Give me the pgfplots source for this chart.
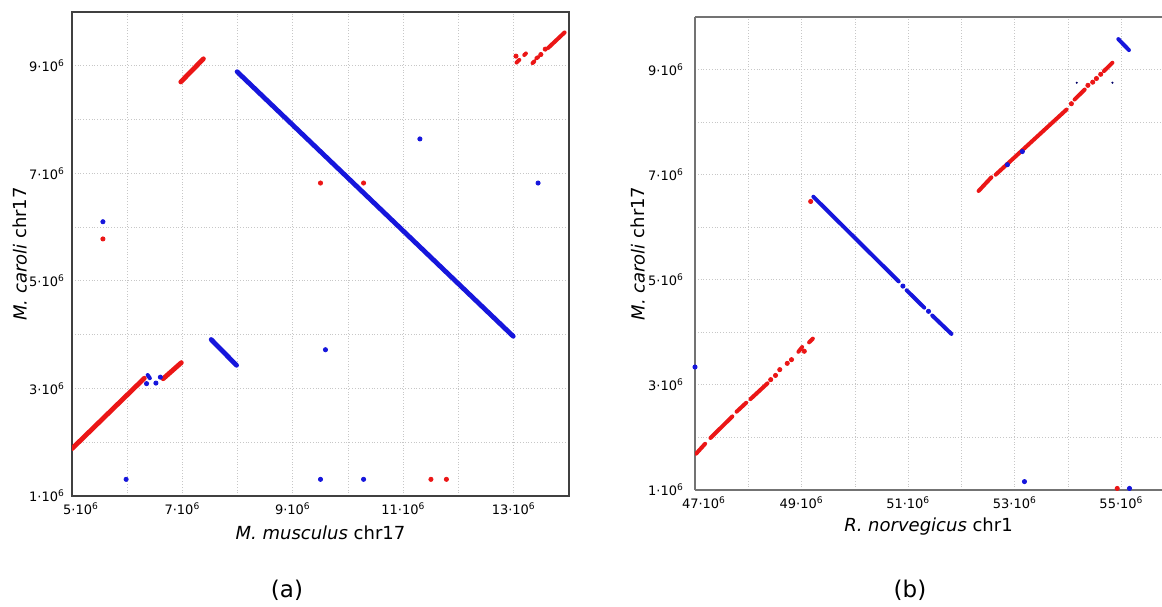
\documentclass[border=0pt]{standalone}
\usepackage{fontspec}
\setmainfont{DejaVu Sans}
\usepackage{pgfplots}
\pgfplotsset{compat=1.18}
\definecolor{cred}{RGB}{235,22,22}
\definecolor{cblue}{RGB}{22,22,220}

\pgfplotsset{
  dotplot/.style={
    scale only axis, anchor=south west,
    unbounded coords=jump, clip=true,
    grid=both,
    grid style={densely dotted, black!22, line width=0.4pt},
    minor grid style={densely dotted, black!22, line width=0.4pt},
    major tick length=0pt, minor tick length=0pt,
    ytick={1,3,5,7,9}, minor ytick={2,4,6,8,10},
    yticklabels={1·10\textsuperscript{6},3·10\textsuperscript{6},5·10\textsuperscript{6},7·10\textsuperscript{6},9·10\textsuperscript{6}},
    ticklabel style={font=\fontsize{6.5}{7}\selectfont},
    label style={font=\fontsize{9}{10}\selectfont},
  },
  segR/.style={color=cred, line width=2.4pt, line cap=round, no markers},
  segB/.style={color=cblue, line width=2.4pt, line cap=round, no markers},
  dotR/.style={color=cred, only marks, mark=*, mark size=1.05pt},
  dotB/.style={color=cblue, only marks, mark=*, mark size=1.05pt},
}

\begin{document}
\begin{tikzpicture}[x=1pt,y=1pt]
\useasboundingbox (0,0) rectangle (581,303);

% (a) M. musculus chr17 vs M. caroli chr17 (positions in Mb)
\begin{axis}[dotplot,
  at={(36pt,55pt)}, width=248.5pt, height=242pt,
  xmin=5, xmax=14, ymin=1, ymax=10,
  xtick={5,7,9,11,13}, minor xtick={6,8,10,12,14},
  xticklabels={\hspace*{9pt}5·10\textsuperscript{6},7·10\textsuperscript{6},9·10\textsuperscript{6},11·10\textsuperscript{6},13·10\textsuperscript{6}},
  axis line style={black!75, line width=0.65pt},
  xlabel={\textit{M. musculus} chr17},
  ylabel={\textit{M. caroli} chr17},
  xlabel style={at={(axis description cs:0.5,0)}, anchor=center, yshift=-18.5pt},
  ylabel style={at={([xshift=-26pt]axis description cs:0,0.5)}, anchor=center},
]
\addplot[segR] coordinates {(5.0,1.88) (6.31,3.19)};
\addplot[segR] coordinates {(6.65,3.18) (6.98,3.48)};
\addplot[segR] coordinates {(6.97,8.70) (7.38,9.13)};
\addplot[segR, line width=2pt] coordinates {
  (13.05,9.06) (13.10,9.11) (nan,nan)
  (13.19,9.20) (13.22,9.23) (nan,nan)
  (13.34,9.05) (13.37,9.08) (nan,nan)
  (13.41,9.14) (13.44,9.16) (nan,nan)
  (13.62,9.33) (13.92,9.62)};
\addplot[dotR] coordinates {(13.04,9.18) (13.49,9.21) (13.57,9.31)
  (5.56,5.78) (9.50,6.82) (10.28,6.82) (11.50,1.31) (11.78,1.31)};
\addplot[segB] coordinates {(7.99,8.89) (12.99,3.97)};
\addplot[segB] coordinates {(7.52,3.91) (7.98,3.43)};
\addplot[segB, line width=2pt] coordinates {(6.37,3.25) (6.41,3.19)};
\addplot[dotB] coordinates {(6.35,3.09) (6.52,3.10) (6.60,3.21)
  (5.56,6.10) (11.30,7.64) (13.44,6.82) (9.59,3.72)
  (5.98,1.31) (9.50,1.31) (10.28,1.31)};
\end{axis}

% (b) R. norvegicus chr1 vs M. caroli chr17 (positions in Mb)
\begin{axis}[dotplot,
  at={(347.5pt,58pt)}, width=233.5pt, height=236.5pt,
  xmin=47, xmax=55.76, ymin=1, ymax=10,
  xtick={47,49,51,53,55}, minor xtick={48,50,52,54},
  xticklabels={\hspace*{9pt}47·10\textsuperscript{6},49·10\textsuperscript{6},51·10\textsuperscript{6},53·10\textsuperscript{6},55·10\textsuperscript{6}},
  axis x line*=box, axis y line*=left,
  axis line style={black!55, line width=0.9pt, -},
  yticklabel style={xshift=-2pt},
  xlabel={\textit{R. norvegicus} chr1},
  ylabel={\textit{M. caroli} chr17},
  xlabel style={at={(axis description cs:0.5,0)}, anchor=center, yshift=-18.5pt},
  ylabel style={at={([xshift=-28.5pt]axis description cs:0,0.5)}, anchor=center},
]
\addplot[segR, line width=2pt] coordinates {
  (47.02,1.69) (47.19,1.88) (nan,nan)
  (47.29,1.99) (47.70,2.40) (nan,nan)
  (47.78,2.49) (47.96,2.66) (nan,nan)
  (48.04,2.73) (48.36,3.03) (nan,nan)
  (48.94,3.63) (49.01,3.72) (nan,nan)
  (49.14,3.81) (49.21,3.88)};
\addplot[dotR] coordinates {(48.42,3.10) (48.51,3.18) (48.59,3.29)
  (48.73,3.41) (48.81,3.48) (49.05,3.64) (49.17,6.49) (54.92,1.03)};
\addplot[segR, line width=2pt] coordinates {
  (52.32,6.69) (52.56,6.95) (nan,nan)
  (52.64,7.00) (53.97,8.24) (nan,nan)
  (54.12,8.43) (54.31,8.62) (nan,nan)
  (54.67,8.97) (54.83,9.13)};
\addplot[dotR] coordinates {(54.06,8.35) (54.37,8.70) (54.46,8.76)
  (54.53,8.83) (54.61,8.91)};
\addplot[segB, line width=2pt] coordinates {
  (49.22,6.58) (50.82,4.97) (nan,nan)
  (50.97,4.80) (51.30,4.47) (nan,nan)
  (51.45,4.32) (51.81,3.97) (nan,nan)
  (54.94,9.58) (55.14,9.37)};
\addplot[dotB] coordinates {(50.90,4.88) (51.38,4.40)
  (47.00,3.34) (52.86,7.19) (53.14,7.44) (53.18,1.16) (55.15,1.03)};
\addplot[only marks, mark=*, mark size=0.3pt, color=blue!40!black]
  coordinates {(54.16,8.75) (54.83,8.75)};
\end{axis}

\node[font=\fontsize{11.5}{12}\selectfont] at (143.5,8) {(a)};
\node[font=\fontsize{11.5}{12}\selectfont] at (455,8) {(b)};
\end{tikzpicture}
\end{document}
